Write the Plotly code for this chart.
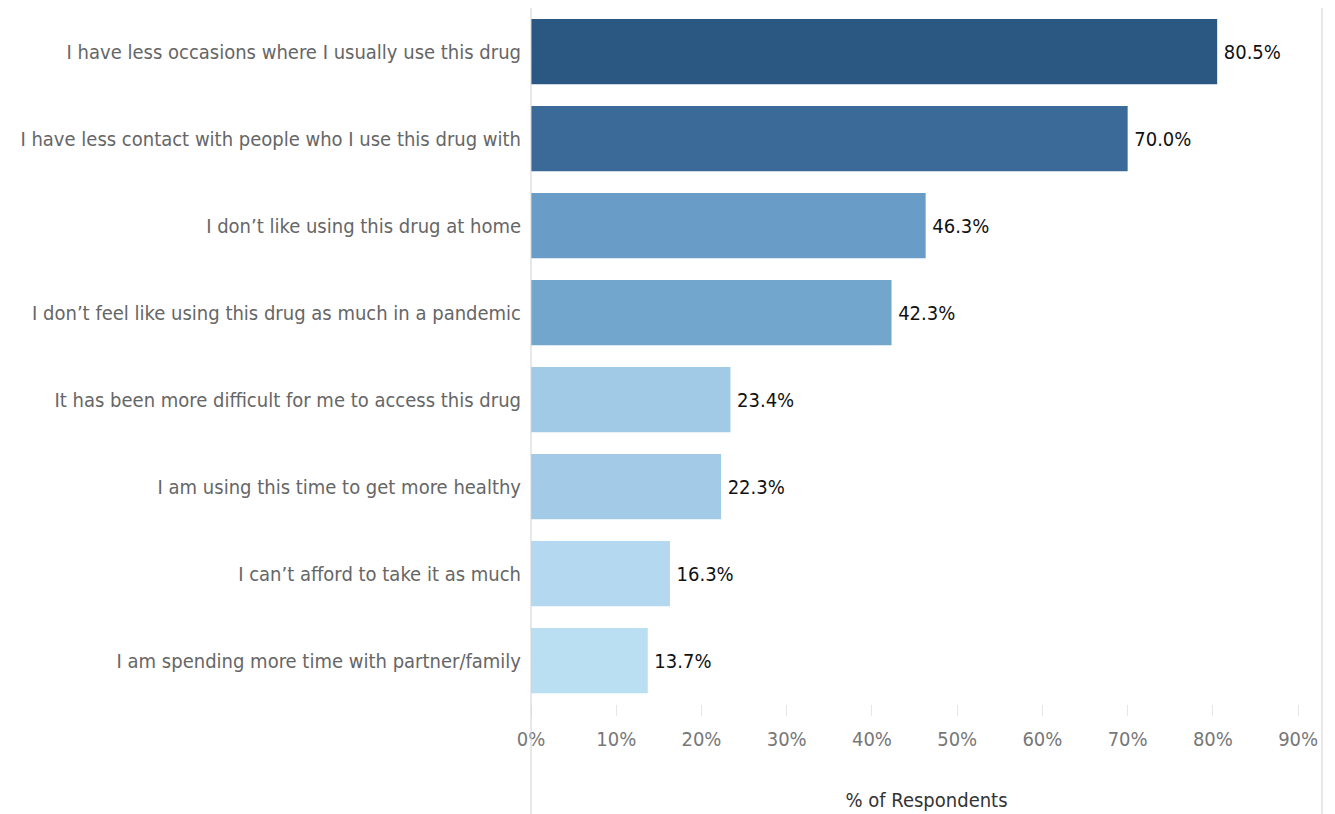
import plotly.graph_objects as go

categories = [
    "I have less occasions where I usually use this drug",
    "I have less contact with people who I use this drug with",
    "I don\u2019t like using this drug at home",
    "I don\u2019t feel like using this drug as much in a pandemic",
    "It has been more difficult for me to access this drug",
    "I am using this time to get more healthy",
    "I can\u2019t afford to take it as much",
    "I am spending more time with partner/family",
]
values = [80.5, 70.0, 46.3, 42.3, 23.4, 22.3, 16.3, 13.7]
colors = ["#2b5783", "#3c6a98", "#699dc7", "#73a6cc", "#a0cae6", "#a3cbe7", "#b4d8ef", "#badef2"]
tick_vals = [0, 10, 20, 30, 40, 50, 60, 70, 80, 90]
tick_text = ["0%", "10%", "20%", "30%", "40%", "50%", "60%", "70%", "80%", "90%"]

FONT = "DejaVu Sans Condensed"

fig = go.Figure(go.Bar(
    x=values, y=categories, orientation="h",
    marker=dict(color=colors, line=dict(width=0)),
    width=0.75,
    text=[f"\u2009{v:.1f}%" for v in values],
    textposition="outside",
    textfont=dict(family=FONT, size=20, color="#111111"),
    cliponaxis=False,
))

fig.update_layout(
    width=1327, height=806,
    margin=dict(l=523, r=13, t=0, b=110, autoexpand=False),
    plot_bgcolor="white", paper_bgcolor="white",
    showlegend=False,
    xaxis=dict(
        range=[0, 92.8], tickvals=tick_vals, ticktext=tick_text, automargin=False,
        showgrid=False, zeroline=False, showline=False,
        ticks="outside", ticklen=11, tickcolor="#e6e6e6", tickwidth=1,
        ticklabelstandoff=6,
        tickfont=dict(family=FONT, size=20, color="#777777"),
        title=dict(text="% of Respondents", font=dict(family=FONT, size=20, color="#333333"), standoff=42),
    ),
    yaxis=dict(
        autorange="reversed", showgrid=False, zeroline=False, showline=False, automargin=False,
        ticks="", ticklabelstandoff=9,
        tickfont=dict(family=FONT, size=20, color="#666666"),
    ),
    shapes=[
        dict(type="line", xref="paper", yref="paper", x0=0, x1=0, y0=-0.2, y1=1.0,
             line=dict(color="#d0d0d0", width=1)),
        dict(type="line", xref="paper", yref="paper", x0=1, x1=1, y0=-0.2, y1=1.0,
             line=dict(color="#d0d0d0", width=1)),
    ],
)

fig.write_html("out.html")
